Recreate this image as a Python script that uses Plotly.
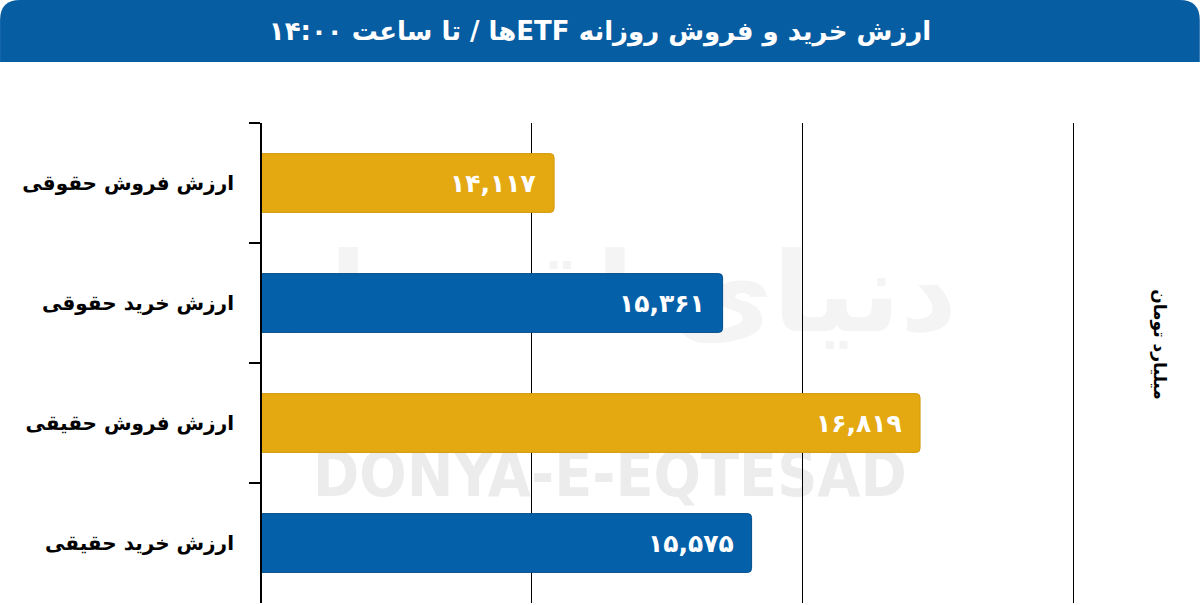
import plotly.graph_objects as go

categories = ["ارزش فروش حقوقی", "ارزش خرید حقوقی", "ارزش فروش حقیقی", "ارزش خرید حقیقی"]
values = [14117, 15361, 16819, 15575]
bar_colors = ["#E4A811", "#0460A9", "#E4A811", "#0460A9"]
line_colors = ["#D39A08", "#024E8C", "#D39A08", "#024E8C"]
title_text = "ارزش خرید و فروش روزانه ETFها / تا ساعت ۱۴:۰۰"
unit_text = "میلیارد تومان"
x_range = [11960, 18000]
grid_start = 11950
x_dtick = 2000

W, H = 1200, 605
SCALE = 0.13546  # px per unit
L, T, B = 262, 123, 603
R = L + SCALE * (x_range[1] - x_range[0])

RLE, PDF = "\u202B", "\u202C"


def fa_digits(s):
    return s.translate(str.maketrans("0123456789", "۰۱۲۳۴۵۶۷۸۹"))


def px(xp):
    return (xp - L) / (R - L)


def py(yp):
    return (B - yp) / (B - T)


ycats = [RLE + c + PDF for c in categories]

fig = go.Figure()
fig.add_trace(go.Bar(
    x=values, y=ycats, orientation="h",
    marker=dict(color=bar_colors, line=dict(color=line_colors, width=1), cornerradius=4),
    width=0.49, hoverinfo="skip",
))

for c, v in zip(ycats, values):
    fig.add_annotation(x=v, y=c, xref="x", yref="y", text=fa_digits(f"{v:,}"),
                       showarrow=False, xanchor="right", yanchor="middle", xshift=-16,
                       font=dict(family="DejaVu Sans", size=25, color="white", weight="bold"))

r = 20
x0, x1, y0, y1 = 0, W, 0, 62
path = (f"M {px(x0)},{py(y1)} L {px(x0)},{py(y0 + r)} Q {px(x0)},{py(y0)} {px(x0 + r)},{py(y0)} "
        f"L {px(x1 - r)},{py(y0)} Q {px(x1)},{py(y0)} {px(x1)},{py(y0 + r)} L {px(x1)},{py(y1)} Z")
fig.add_shape(type="path", xref="paper", yref="paper", path=path,
              fillcolor="#075DA2", line=dict(width=0), layer="above")

layer_wm = "between"
wm1 = dict(type="rect", xref="paper", yref="paper", x0=px(300), x1=px(920), y0=py(500), y1=py(440),
           line=dict(width=0), fillcolor="rgba(0,0,0,0)",
           label=dict(text="DONYA-E-EQTESAD",
                      font=dict(family="DejaVu Sans Condensed", size=62, color="#ECECEC", weight="bold"),
                      textposition="middle center"))
try:
    fig.add_shape(layer=layer_wm, **wm1)
except ValueError:
    layer_wm = "below"
    fig.add_shape(layer=layer_wm, **wm1)

fig.add_shape(type="rect", xref="paper", yref="paper", x0=px(290), x1=px(940), y0=py(370), y1=py(200),
              line=dict(width=0), fillcolor="rgba(0,0,0,0)", layer=layer_wm,
              label=dict(text="دنیای اقتصاد", font=dict(family="DejaVu Sans", size=110, color="#F4F4F4", weight="bold"),
                         textposition="middle center"))

fig.add_annotation(x=px(1160), y=py(345), xref="paper", yref="paper", text=RLE + unit_text + PDF, textangle=90,
                   showarrow=False, xanchor="center", yanchor="middle",
                   font=dict(family="DejaVu Sans", size=17, color="black", weight="bold"))

fig.update_layout(
    width=W, height=H,
    margin=dict(l=L, r=W - R, t=T, b=H - B, pad=0),
    paper_bgcolor="white", plot_bgcolor="white",
    showlegend=False,
    title=dict(text=RLE + title_text + PDF, x=0.5, xanchor="center", xref="container",
               y=1 - 31 / H, yanchor="middle", yref="container",
               font=dict(family="DejaVu Sans", size=26, color="white", weight="bold")),
    xaxis=dict(range=x_range, dtick=x_dtick, tick0=grid_start, showgrid=True, gridcolor="black", gridwidth=1,
               showticklabels=False, zeroline=False, showline=False, ticks=""),
    yaxis=dict(autorange="reversed", showline=True, linecolor="black", linewidth=2,
               ticks="outside", ticklen=11, tickwidth=2, tickcolor="black", tickson="boundaries",
               showgrid=False, ticklabelstandoff=22,
               tickfont=dict(family="DejaVu Sans", size=20, color="black", weight="bold")),
)

fig.write_html("out.html", config={"displayModeBar": False},
               post_script="document.body.style.margin='0';document.body.style.padding='0';")
